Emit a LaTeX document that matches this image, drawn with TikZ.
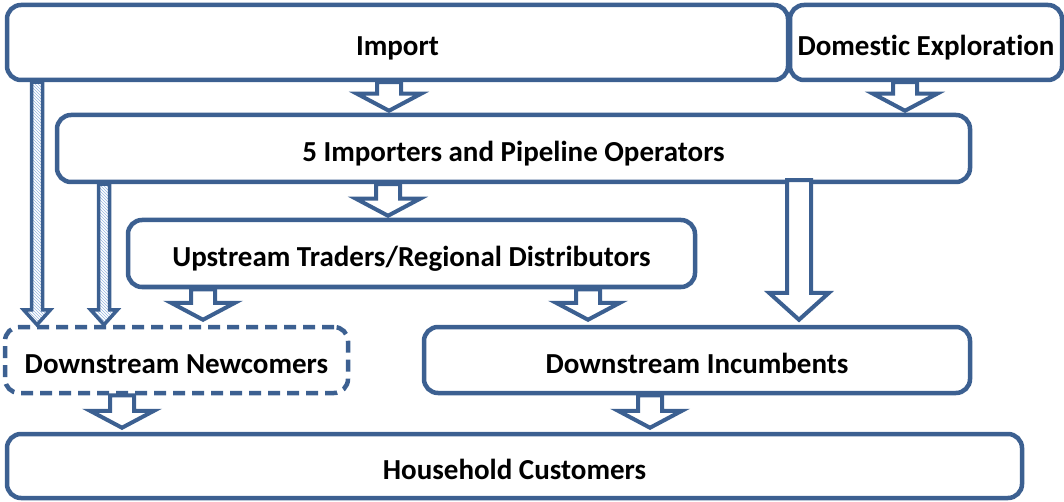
\documentclass[tikz,border=0pt]{standalone}
\usepackage{fontspec}
\setmainfont{Carlito}[Ligatures=NoCommon]
\usetikzlibrary{calc,patterns}
\definecolor{boxblue}{RGB}{60,96,145}
\definecolor{stripeblue}{RGB}{150,180,222}
\tikzset{
  box/.style={draw=boxblue, line width=4.5pt, rounded corners=14pt, fill=white,
    font=\fontsize{29}{33}\selectfont\bfseries, inner sep=0pt, text height=27pt, text depth=0pt},
  newbox/.style={box, dash pattern=on 12pt off 7pt},
  blockarrow/.style n args={3}{draw=boxblue, line width=4pt, fill=white, miter limit=20,
    to path={let \p1=(\tikztostart), \p2=(\tikztotarget) in
      (\x1-#1,\y1) -- (\x1+#1,\y1) -- (\x1+#1,\y2+#3) -- (\x1+#2,\y2+#3)
      -- (\x1,\y2) -- (\x1-#2,\y2+#3) -- (\x1-#1,\y2+#3) -- cycle}},
  fatarrow/.style={blockarrow={12pt}{32pt}{17pt}},
  longarrow/.style={blockarrow={12pt}{30pt}{27pt}},
  stripearrow/.style={blockarrow={5.5pt}{13.5pt}{15pt}, line width=3.5pt,
    pattern=north west lines, pattern color=stripeblue}
}
\begin{document}
\begin{tikzpicture}[x=1pt,y=-1pt]
  \useasboundingbox (0,0) rectangle (1064,502);
  \node[box, minimum width=781pt, minimum height=75pt] (imp) at (397.5,42.5) {Import};
  \node[box, minimum width=272pt, minimum height=75pt] (dom) at (926,42.5) {Domestic Exploration};
  \node[box, minimum width=913pt, minimum height=67pt] (ipo) at (513.5,148.5) {5 Importers and Pipeline Operators};
  \node[box, minimum width=567pt, minimum height=67pt] (utr) at (411.5,253.5) {Upstream Traders/Regional Distributors};
  \node[newbox, minimum width=343pt, minimum height=66pt] (dnew) at (176.5,360) {Downstream Newcomers};
  \node[box, minimum width=546pt, minimum height=66pt] (dinc) at (697,360) {Downstream Incumbents};
  \node[box, minimum width=1015pt, minimum height=64pt] (hh) at (514.5,466) {Household Customers};

  \draw[fatarrow] ([xshift=-8.5pt]imp.south) to ([yshift=2pt]ipo.north);
  \draw[fatarrow] ([xshift=-21pt]dom.south) to ([yshift=2pt]ipo.north);
  \draw[fatarrow] ([xshift=-125.5pt]ipo.south) to ([yshift=2pt]utr.north);
  \draw[longarrow] ([xshift=285.5pt,yshift=4pt]ipo.south) to ([yshift=5pt]dinc.north);
  \draw[stripearrow] ([xshift=-360.5pt]imp.south) to (dnew.north);
  \draw[stripearrow] ([xshift=-409.5pt]ipo.south) to (dnew.north);
  \draw[fatarrow] ([xshift=-208.5pt]utr.south) to ([yshift=5pt]dnew.north);
  \draw[fatarrow] ([xshift=176.5pt]utr.south) to ([yshift=5pt]dinc.north);
  \draw[fatarrow] ([xshift=-54.5pt]dnew.south) to ([yshift=4pt]hh.north);
  \draw[fatarrow] ([xshift=-47pt]dinc.south) to ([yshift=4pt]hh.north);
\end{tikzpicture}
\end{document}
